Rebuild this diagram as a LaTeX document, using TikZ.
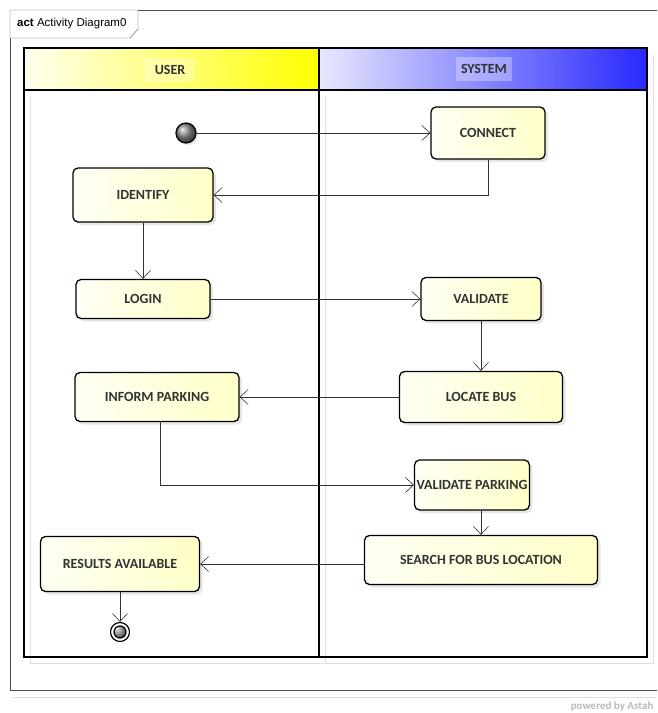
\documentclass[tikz,border=0pt]{standalone}
\usepackage{fontspec}
\setmainfont{Carlito}
\newfontfamily\arialfont{Liberation Sans}
\usetikzlibrary{shadows,arrows.meta}

\definecolor{laneblue}{RGB}{40,40,255}
\definecolor{lanelav}{RGB}{232,232,255}
\definecolor{boxlight}{RGB}{255,255,244}
\definecolor{boxdark}{RGB}{255,255,200}

\tikzset{
  action/.style={draw, line width=1.3pt, rounded corners=5pt, align=center,
    font=\bfseries\fontsize{14}{16}\selectfont, text=black!80,
    left color=boxlight, right color=boxdark,
    drop shadow={opacity=0.2, shadow xshift=3pt, shadow yshift=-3pt}},
  initial/.style={circle, draw, line width=1.2pt, minimum size=20pt, inner sep=0pt,
    ball color=black!45, drop shadow={opacity=0.2, shadow xshift=2pt, shadow yshift=-2pt}},
  final/.style={circle, draw, line width=1.2pt, minimum size=19pt, inner sep=0pt, fill=white,
    path picture={\draw[ball color=black!45] (path picture bounding box.center) circle (6pt);}},
  lanelabel/.style={fill=white, fill opacity=0.3, text opacity=1, text=black!80,
    font=\bfseries\fontsize{14}{16}\selectfont, minimum height=24pt},
  flow/.style={-{Straight Barb[length=8pt,width=15pt]}, black!80, semithick},
}

\begin{document}
\begin{tikzpicture}[x=1pt, y=-1pt]
  \useasboundingbox (0,0) rectangle (657,713);

  % diagram frame
  \draw[gray!25, thick] (12,697) -- (657,697);
  \draw[black!70] (657,10) -- (10,10) -- (10,690) -- (657,690);
  \draw[black!70, fill=white] (10,10) -- (138,10) -- (138,29) -- (130,38) -- (10,38) -- cycle;
  \node[anchor=west, inner sep=0pt, font=\arialfont\fontsize{11.5}{13}\selectfont] (title)
    at (17,24) {\textbf{act} Activity Diagram0};

  % lanes
  \draw[gray!25, thick] (30,96) -- (30,663) -- (653,663) -- (653,55);
  \draw[gray!25, thick] (325,96) -- (325,663);
  \shade[left color=yellow!6, right color=yellow] (24,48) rectangle (319,90);
  \shade[left color=lanelav, right color=laneblue] (319,48) rectangle (647,90);
  \node[lanelabel, minimum width=50pt] (user) at (170,70) {USER};
  \node[lanelabel, minimum width=56pt] (system) at (484,69) {SYSTEM};
  \draw[line width=1.5pt] (24,48) rectangle (647,657);
  \draw[line width=1.5pt] (24,90) -- (647,90);
  \draw[line width=1.5pt] (319,48) -- (319,657);

  % actions
  \node[initial] (start) at (186,133) {};
  \node[action, minimum width=114pt, minimum height=52pt] (connect) at (488,133) {CONNECT};
  \node[action, minimum width=140pt, minimum height=54pt] (identify) at (143,195) {IDENTIFY};
  \node[action, minimum width=134pt, minimum height=39pt] (login) at (143,299) {LOGIN};
  \node[action, minimum width=120pt, minimum height=43pt] (validate) at (481,299) {VALIDATE};
  \node[action, minimum width=163pt, minimum height=51pt] (locate) at (481,397) {LOCATE BUS};
  \node[action, minimum width=164pt, minimum height=49pt] (inform) at (157,397) {INFORM PARKING};
  \node[action, minimum width=111pt, minimum height=50pt, inner sep=2pt] (vpark) at (472,485) {VALIDATE PARKING};
  \node[action, minimum width=233pt, minimum height=49pt] (search) at (481,560) {SEARCH FOR BUS LOCATION};
  \node[action, minimum width=159pt, minimum height=55pt] (results) at (120,564) {RESULTS AVAILABLE};
  \node[final] (end) at (120,632) {};

  % flows
  \draw[flow] (start) -- (connect);
  \draw[flow] (connect) |- (identify);
  \draw[flow] (identify) -- (login);
  \draw[flow] (login) -- (validate);
  \draw[flow] (validate) -- (locate);
  \draw[flow] (locate) -- (inform);
  \draw[flow] ([xshift=3pt]inform.south) |- (vpark);
  \draw[flow] (vpark.south -| search) -- (search);
  \draw[flow] (search.west |- results) -- (results);
  \draw[flow] (results) -- (end);

  \node[anchor=east, text=gray!55, font=\bfseries\fontsize{11}{12}\selectfont] (astah)
    at (657,706) {powered by Astah};
\end{tikzpicture}
\end{document}
